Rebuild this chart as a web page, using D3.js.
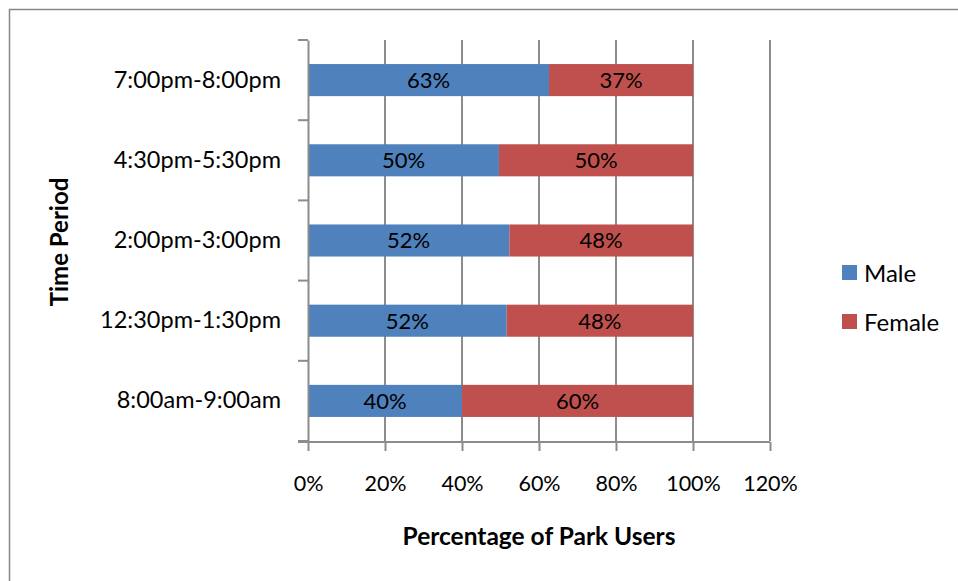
<!DOCTYPE html>
<html>
<head>
<meta charset="utf-8">
<script src="https://cdn.jsdelivr.net/npm/d3@7"></script>
<style>
  body { margin: 0; background: #fff; }
  text { font-family: Lato, "Open Sans", sans-serif; }
</style>
</head>
<body>
<div id="chart"></div>
<script>
// time periods, bottom to top as in the chart
var periods = ['8:00am-9:00am', '12:30pm-1:30pm', '2:00pm-3:00pm', '4:30pm-5:30pm', '7:00pm-8:00pm'];
var male = [0.40, 0.516, 0.523, 0.496, 0.626];
var female = [0.60, 0.484, 0.477, 0.504, 0.374];
var seriesNames = ['Male', 'Female'];
var colors = ['#4F81BD', '#C0504D'];
var xTicks = [0, 0.2, 0.4, 0.6, 0.8, 1.0, 1.2];

var w = 958;
var h = 581;
var margin = {top: 40, right: 188, bottom: 140, left: 308};

var x = d3.scaleLinear()
     .domain([0, 1.2])
     .range([margin.left, w - margin.right]);

var y = d3.scaleBand()
     .domain(periods.slice().reverse())
     .range([margin.top, h - margin.bottom])
     .paddingInner(0.6)
     .paddingOuter(0.3);

var svg = d3.select('#chart')
     .append('svg')
     .attr('width', w)
     .attr('height', h);

// outer frame
svg.append('rect')
     .attr('x', 9.5).attr('y', 9.5)
     .attr('width', w + 20).attr('height', h + 20)
     .attr('fill', 'none')
     .attr('stroke', '#878787')
     .attr('stroke-width', 1.5);

// vertical gridlines
svg.append('g')
     .selectAll('line')
     .data(xTicks.slice(1))
     .enter()
     .append('line')
     .attr('x1', d => x(d)).attr('x2', d => x(d))
     .attr('y1', margin.top).attr('y2', h - margin.bottom)
     .attr('stroke', '#8c8c8c')
     .attr('stroke-width', 2);

// stacked rows
var rows = periods.map((p, i) => ({period: p, male: male[i], female: female[i]}));
var stack = d3.stack().keys(['male', 'female'])(rows);

var layer = svg.selectAll('g.layer')
     .data(stack)
     .enter()
     .append('g')
     .attr('class', 'layer')
     .attr('fill', (d, i) => colors[i]);

layer.selectAll('rect')
     .data(d => d)
     .enter()
     .append('rect')
     .attr('x', d => x(d[0]))
     .attr('y', d => y(d.data.period))
     .attr('width', d => x(d[1]) - x(d[0]))
     .attr('height', y.bandwidth());

layer.selectAll('text')
     .data(d => d)
     .enter()
     .append('text')
     .attr('x', d => (x(d[0]) + x(d[1])) / 2)
     .attr('y', d => y(d.data.period) + y.bandwidth() / 2)
     .attr('dy', '0.36em')
     .attr('text-anchor', 'middle')
     .attr('font-size', 22)
     .attr('fill', '#000')
     .text(d => Math.round((d[1] - d[0]) * 100) + '%');

// y axis
var yAxis = d3.axisLeft(y).tickSize(0).tickPadding(27);
svg.append('g')
     .attr('transform', 'translate(' + margin.left + ',0)')
     .call(yAxis)
     .call(g => g.select('.domain').attr('stroke', '#8c8c8c').attr('stroke-width', 2))
     .call(g => g.selectAll('text').attr('font-size', 23.5).attr('fill', '#000').attr('font-family', 'Lato, sans-serif'));

// y axis ticks between categories
var yTickPos = d3.range(periods.length + 1).map(i => margin.top + i * (h - margin.top - margin.bottom) / periods.length);
svg.append('g')
     .selectAll('line')
     .data(yTickPos)
     .enter()
     .append('line')
     .attr('x1', margin.left - 10).attr('x2', margin.left)
     .attr('y1', d => d).attr('y2', d => d)
     .attr('stroke', '#8c8c8c')
     .attr('stroke-width', 2);

// x axis
var xAxis = d3.axisBottom(x)
     .tickValues(xTicks)
     .tickFormat(d3.format('.0%'))
     .tickSize(9)
     .tickPadding(25);
svg.append('g')
     .attr('transform', 'translate(0,' + (h - margin.bottom + 1) + ')')
     .call(xAxis)
     .call(g => g.select('.domain').attr('d', 'M' + (margin.left - 10) + ',0H' + x(1.2)).attr('stroke', '#8c8c8c').attr('stroke-width', 2))
     .call(g => g.selectAll('.tick line').attr('stroke', '#8c8c8c').attr('stroke-width', 2))
     .call(g => g.selectAll('text').attr('font-size', 21.5).attr('fill', '#000').attr('font-family', 'Lato, sans-serif'));

// axis titles
svg.append('text')
     .attr('x', x(0.6))
     .attr('y', 545)
     .attr('text-anchor', 'middle')
     .attr('font-size', 24.5)
     .attr('font-weight', 'bold')
     .text('Percentage of Park Users');

svg.append('text')
     .attr('transform', 'translate(68,242) rotate(-90)')
     .attr('text-anchor', 'middle')
     .attr('font-size', 24)
     .attr('font-weight', 'bold')
     .text('Time Period');

// legend
var legend = svg.append('g')
     .selectAll('g')
     .data(seriesNames)
     .enter()
     .append('g')
     .attr('transform', (d, i) => 'translate(842,' + (265 + i * 49) + ')');

legend.append('rect')
     .attr('width', 15).attr('height', 15)
     .attr('fill', (d, i) => colors[i]);

legend.append('text')
     .attr('x', 22)
     .attr('y', 8)
     .attr('dy', '0.36em')
     .attr('font-size', 24)
     .text(d => d);
</script>
</body>
</html>
